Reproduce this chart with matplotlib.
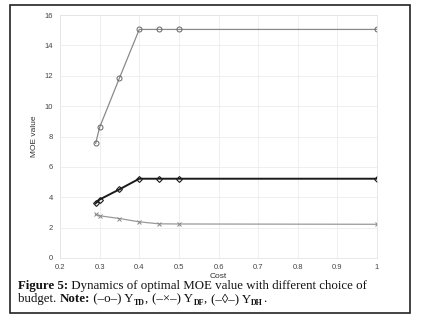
import matplotlib
matplotlib.use("Agg")
import matplotlib.pyplot as plt
from matplotlib.patches import Rectangle

cost = [0.29, 0.30, 0.35, 0.40, 0.45, 0.50, 1.0]
y_td = [7.55, 8.6, 11.85, 15.05, 15.05, 15.05, 15.05]
y_dh = [3.6, 3.85, 4.52, 5.22, 5.22, 5.22, 5.22]
y_df = [2.87, 2.78, 2.6, 2.38, 2.25, 2.24, 2.22]
xticks = [0.2, 0.3, 0.4, 0.5, 0.6, 0.7, 0.8, 0.9, 1.0]
xticklabels = ["0.2", "0.3", "0.4", "0.5", "0.6", "0.7", "0.8", "0.9", "1"]
yticks = [0, 2, 4, 6, 8, 10, 12, 14, 16]

W, H = 422, 325
fig = plt.figure(figsize=(W / 100, H / 100), dpi=100)
fig.patch.set_facecolor('white')

# outer frame
fig.add_artist(Rectangle((10 / W, 1 - 313 / H), 400 / W, 308 / H,
                         transform=fig.transFigure, fill=False,
                         edgecolor='#222222', linewidth=1.2))

ax = fig.add_axes([60 / W, 1 - 258 / H, 317 / W, 243 / H])
ax.plot(cost, y_td, color='#8a8a8a', lw=0.9, marker='o', ms=3.6,
        mfc='none', mec='#666666', mew=0.7)
ax.plot(cost, y_dh, color='#1a1a1a', lw=1.4, marker='D', ms=3.0,
        mfc='none', mec='#1a1a1a', mew=0.8)
ax.plot(cost, y_df, color='#999999', lw=0.9, marker='x', ms=2.6,
        mec='#888888', mew=0.7)

ax.set_xlim(0.2, 1.0)
ax.set_ylim(0, 16)
ax.set_xticks(xticks)
ax.set_xticklabels(xticklabels)
ax.set_yticks(yticks)
ax.grid(True, color='#ececec', lw=0.6)
ax.set_axisbelow(True)
for s in ax.spines.values():
    s.set_color('#e4e4e4')
    s.set_linewidth(0.6)
ax.tick_params(labelsize=5.5, length=0, labelcolor='#444444')
ax.tick_params(axis='x', pad=4)
ax.tick_params(axis='y', pad=5)
for lab in ax.get_xticklabels() + ax.get_yticklabels():
    lab.set_family('Liberation Sans')
ax.set_xlabel('Cost', fontsize=6, family='Liberation Sans', color='#333333', labelpad=1.5)
ax.set_ylabel('MOE value', fontsize=6, family='Liberation Sans', color='#333333', labelpad=5)

fam = ['Liberation Serif', 'DejaVu Serif']
FS = 9.3
SS = 5.8
col = '#111111'

# (text, weight, size, baseline drop in px)
line1 = [("Figure 5:", 'bold', FS, 0),
         (" Dynamics of optimal MOE value with different choice of", 'normal', FS, 0)]
line2 = [("budget. ", 'normal', FS, 0), ("Note:", 'bold', FS, 0),
         (" (–o–) Y", 'normal', FS, 0), ("TD", 'bold', SS, 3), (", ", 'normal', FS, 0),
         ("(–×–) Y", 'normal', FS, 0), ("DF", 'bold', SS, 3), (", ", 'normal', FS, 0),
         ("(–◊–) Y", 'normal', FS, 0), ("DH", 'bold', SS, 3), (".", 'normal', FS, 0)]

r = fig.canvas.get_renderer()


def place(pieces, ybase, spacing):
    x = 18
    for s, w, fs, dy in pieces:
        t = fig.text(x / W, 1 - (ybase + dy) / H, s, fontsize=fs, family=fam,
                     fontweight=w, va='baseline', ha='left', color=col)
        bb = t.get_window_extent(renderer=r)
        x += bb.width + spacing


place(line1, 289.5, 0.3)
place(line2, 302, 0.3)

fig.savefig('out.png', dpi=100, facecolor='white')
